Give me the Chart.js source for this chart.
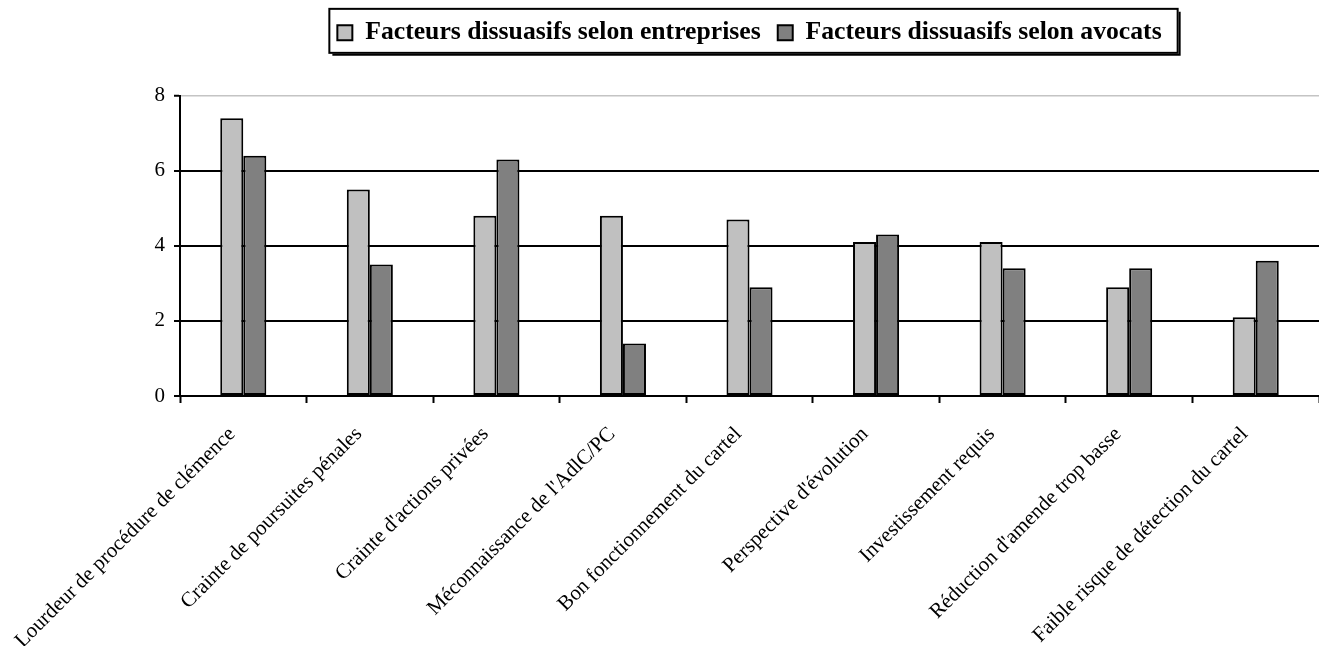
<!DOCTYPE html>
<html>
<head>
<meta charset="utf-8">
<script src="https://cdn.jsdelivr.net/npm/chart.js@4/dist/chart.umd.min.js"></script>
<style>
  html, body { margin: 0; padding: 0; background: #fff; }
  #wrap { width: 1319px; height: 646px; }
</style>
</head>
<body>
<div id="wrap"><canvas id="c" width="1319" height="646"></canvas></div>
<script>
// Categories and series
const categories = [
  "Lourdeur de procédure de clémence",
  "Crainte de poursuites pénales",
  "Crainte d'actions privées",
  "Méconnaissance de l'AdlC/PC",
  "Bon fonctionnement du cartel",
  "Perspective d'évolution",
  "Investissement requis",
  "Réduction d'amende trop basse",
  "Faible risque de détection du cartel"
];
const seriesNames = [
  "Facteurs dissuasifs selon entreprises",
  "Facteurs dissuasifs selon avocats"
];
const entreprises = [7.4, 5.5, 4.8, 4.8, 4.7, 4.1, 4.1, 2.9, 2.1];
const avocats     = [6.4, 3.5, 6.3, 1.4, 2.9, 4.3, 3.4, 3.4, 3.6];
const yTicks = [0, 2, 4, 6, 8];

const SERIF = "'Liberation Serif', 'Times New Roman', serif";
Chart.defaults.color = '#000';
Chart.defaults.font.family = SERIF;

// Center the legend over the plot area and frame it with a box
const legendFrame = {
  id: 'legendFrame',
  afterUpdate(chart) {
    const lg = chart.legend;
    if (!lg || !lg.legendHitBoxes) return;
    const tops = lg.legendHitBoxes.map(h => h.top);
    lg.left = chart.chartArea.left;
    lg.right = chart.chartArea.right;
    lg.adjustHitBoxes();
    lg.legendHitBoxes.forEach((h, i) => { h.top = tops[i]; });
  },
  afterDraw(chart) {
    const lg = chart.legend;
    if (!lg || !lg.legendHitBoxes.length) return;
    const hb = lg.legendHitBoxes;
    const last = hb[hb.length - 1];
    const cy = hb[0].top + hb[0].height / 2;
    const x0 = hb[0].left - 8;
    const x1 = last.left + last.width + 16;
    const y0 = cy - 24;
    const y1 = cy + 20;
    const ctx = chart.ctx;
    ctx.save();
    ctx.strokeStyle = '#000';
    ctx.lineWidth = 2;
    ctx.strokeRect(x0, y0, x1 - x0, y1 - y0);
    ctx.beginPath();
    ctx.moveTo(x0 + 3, y1 + 2);
    ctx.lineTo(x1 + 2, y1 + 2);
    ctx.lineTo(x1 + 2, y0 + 3);
    ctx.stroke();
    ctx.restore();
  }
};

new Chart(document.getElementById('c'), {
  type: 'bar',
  data: {
    labels: categories,
    datasets: [
      {
        label: seriesNames[0],
        data: entreprises,
        backgroundColor: '#c0c0c0',
        borderColor: '#000',
        borderWidth: 2,
        borderSkipped: false
      },
      {
        label: seriesNames[1],
        data: avocats,
        backgroundColor: '#808080',
        borderColor: '#000',
        borderWidth: 2,
        borderSkipped: false
      }
    ]
  },
  options: {
    responsive: false,
    animation: false,
    layout: { padding: { top: 3, right: 0, bottom: 0, left: 0 } },
    datasets: { bar: { categoryPercentage: 0.364, barPercentage: 1.0 } },
    plugins: {
      tooltip: { enabled: false },
      legend: {
        position: 'top',
        align: 'center',
        labels: {
          boxWidth: 15,
          boxHeight: 15,
          padding: 17,
          color: '#000',
          font: { family: SERIF, size: 25.7, weight: 'bold' }
        }
      },
      // blank band between the legend and the plot
      subtitle: {
        display: true,
        text: '',
        position: 'top',
        weight: 500,
        font: { size: 10 },
        padding: { top: 0, bottom: 28 }
      }
    },
    scales: {
      x: {
        offset: true,
        grid: {
          offset: true,
          drawOnChartArea: false,
          drawTicks: true,
          tickLength: 7,
          tickColor: '#000',
          tickWidth: 2
        },
        border: { display: true, color: '#000', width: 2 },
        ticks: {
          autoSkip: false,
          minRotation: 45,
          maxRotation: 45,
          padding: 19,
          labelOffset: -11,
          color: '#000',
          font: { family: SERIF, size: 21 }
        },
        afterFit(scale) { scale.height = 250; }
      },
      y: {
        min: 0,
        max: 8,
        afterBuildTicks(scale) { scale.ticks = yTicks.map(v => ({ value: v })); },
        grid: {
          color: ctx => (ctx.tick && ctx.tick.value === 8) ? '#c4c4c4' : '#000',
          lineWidth: ctx => (ctx.tick && ctx.tick.value === 8) ? 1.5 : 2,
          tickColor: '#000',
          tickWidth: 2,
          tickLength: 6,
          drawTicks: true
        },
        border: { display: true, color: '#000', width: 2 },
        ticks: {
          padding: 9,
          color: '#000',
          font: { family: SERIF, size: 21 }
        },
        afterFit(scale) { scale.width = 180; }
      }
    }
  },
  plugins: [legendFrame]
});
</script>
</body>
</html>
